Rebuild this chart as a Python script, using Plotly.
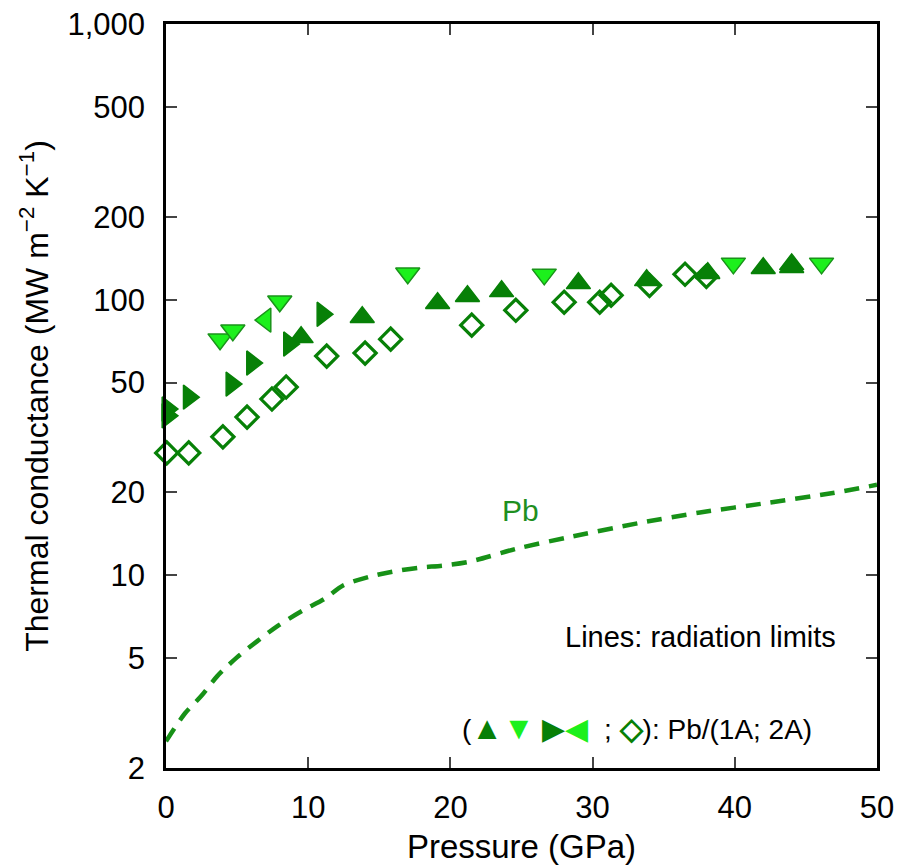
import plotly.graph_objects as go

# ---- data ----
up_x = [9.5, 13.8, 19.1, 21.2, 23.6, 29.0, 33.8, 38.1, 42.0, 44.0, 44.0]
up_y = [73.0, 86.4, 97.0, 102.9, 107.2, 114.6, 117.5, 124.6, 130.0, 134.3, 131.0]

down_x = [3.8, 4.7, 8.0, 17.0, 26.6, 39.9, 46.1]
down_y = [71.9, 77.5, 98.7, 124.6, 123.5, 135.4, 135.4]

right_x = [0.1, 0.1, 1.6, 4.6, 6.05, 8.65, 11.0]
right_y = [40.1, 37.9, 44.3, 49.4, 58.9, 69.0, 88.5]

left_x = [-0.05, 7.0]
left_y = [59.4, 84.3]

dia_x = [0.05, 1.6, 4.0, 5.7, 7.45, 8.45, 11.3, 14.0, 15.8, 21.5, 24.6, 28.0, 30.5, 31.3, 34.0, 36.5, 38.0]
dia_y = [27.8, 27.8, 31.8, 37.5, 43.6, 48.2, 62.4, 64.0, 71.9, 80.8, 91.5, 97.9, 97.9, 103.7, 112.7, 123.6, 121.5]

pb_x = [0, 1.34, 2.46, 3.59, 4.99, 6.40, 7.81, 9.63, 11.18, 12.45, 14.35, 15.96, 17.86, 19.48, 21.38,
        24.68, 28.2, 33.33, 37.55, 42.26, 46.9, 50]
pb_y = [2.50, 3.16, 3.64, 4.30, 5.04, 5.76, 6.53, 7.46, 8.24, 9.19, 9.90, 10.32, 10.67, 10.85, 11.22,
        12.5, 13.7, 15.5, 16.9, 18.3, 19.9, 21.3]

x_ticks = [0, 10, 20, 30, 40, 50]
y_ticks = [2, 5, 10, 20, 50, 100, 200, 500, 1000]
y_ticktext = ["2", "5", "10", "20", "50", "100", "200", "500", "1,000"]

DARK = "#078007"
LIGHT = "#1cf01c"
EDGE = "#1a931a"
LINE = "#179117"

fig = go.Figure()

fig.add_trace(go.Scatter(x=pb_x, y=pb_y, mode="lines",
                         line=dict(color=LINE, width=4.5, dash="15px,10px", shape="spline", smoothing=0.8),
                         showlegend=False, hoverinfo="skip"))

fig.add_trace(go.Scatter(x=dia_x, y=dia_y, mode="markers", cliponaxis=False,
                         marker=dict(symbol="diamond-open", size=17, color=DARK, line=dict(width=3.2, color=DARK)),
                         showlegend=False))
fig.add_trace(go.Scatter(x=up_x, y=up_y, mode="markers", cliponaxis=False,
                         marker=dict(symbol="triangle-up", size=21, color=DARK, line=dict(width=1.5, color=DARK)),
                         showlegend=False))
fig.add_trace(go.Scatter(x=down_x, y=down_y, mode="markers", cliponaxis=False,
                         marker=dict(symbol="triangle-down", size=21, color=LIGHT, line=dict(width=1.5, color=EDGE)),
                         showlegend=False))
fig.add_trace(go.Scatter(x=right_x, y=right_y, mode="markers", cliponaxis=False,
                         marker=dict(symbol="triangle-right", size=21, color=DARK, line=dict(width=1.5, color=DARK)),
                         showlegend=False))
fig.add_trace(go.Scatter(x=left_x, y=left_y, mode="markers", cliponaxis=False,
                         marker=dict(symbol="triangle-left", size=21, color=LIGHT, line=dict(width=1.5, color=EDGE)),
                         showlegend=False))

FONT = "Liberation Sans, Arial, Helvetica, sans-serif"

W = 900 - 166 - 23
H = 865 - 24 - 97

legend_text = (
    "(<span style='color:%s;font-size:32px'>\u25b2</span>"
    "<span style='color:%s;font-size:32px'>\u25bc</span> "
    "<span style='color:%s;font-size:30px'>\u25b6</span>"
    "<span style='color:%s;font-size:30px'>\u25c0</span>  ; "
    "<span style='color:%s;font-size:30px'><b>\u25c7</b></span>): Pb/(1A; 2A)"
) % (DARK, LIGHT, DARK, LIGHT, DARK)

fig.update_layout(
    width=900, height=865,
    margin=dict(l=166, r=23, t=24, b=97),
    paper_bgcolor="white", plot_bgcolor="white",
    font=dict(family=FONT, color="black", size=28),
    xaxis=dict(range=[0, 50], tickvals=x_ticks, ticks="inside", ticklen=11, tickwidth=2, automargin=False,
               showline=True, linewidth=2.5, linecolor="black", mirror="ticks", showgrid=False, zeroline=False,
               tickfont=dict(size=31), ticklabelstandoff=10,
               title=dict(text="Pressure (GPa)", font=dict(size=33), standoff=16)),
    yaxis=dict(type="log", range=[0.30103, 3], tickvals=y_ticks, ticktext=y_ticktext, ticks="inside", ticklen=11,
               tickwidth=2, showline=True, linewidth=2.5, linecolor="black", mirror="ticks", showgrid=False,
               zeroline=False, tickfont=dict(size=31), ticklabelstandoff=12, automargin=False,
               title=dict(text="Thermal conductance (MW m<sup>\u22122</sup> K<sup>\u22121</sup>)",
                          font=dict(size=32), standoff=10)),
    annotations=[
        dict(x=24.9, y=1.236, xref="x", yref="y", text="Pb", showarrow=False,
             font=dict(size=30, color="#1f8f1f"), xanchor="center", yanchor="middle"),
        dict(x=(700 - 166) / W, y=(768 - 637) / H, xref="paper", yref="paper", text="Lines: radiation limits",
             showarrow=False, font=dict(size=29), xanchor="center", yanchor="middle"),
        dict(x=(460 - 166) / W, y=(768 - 728) / H, xref="paper", yref="paper", showarrow=False,
             xanchor="left", yanchor="middle", font=dict(size=28), text=legend_text),
    ],
)

fig.write_html("out.html")
